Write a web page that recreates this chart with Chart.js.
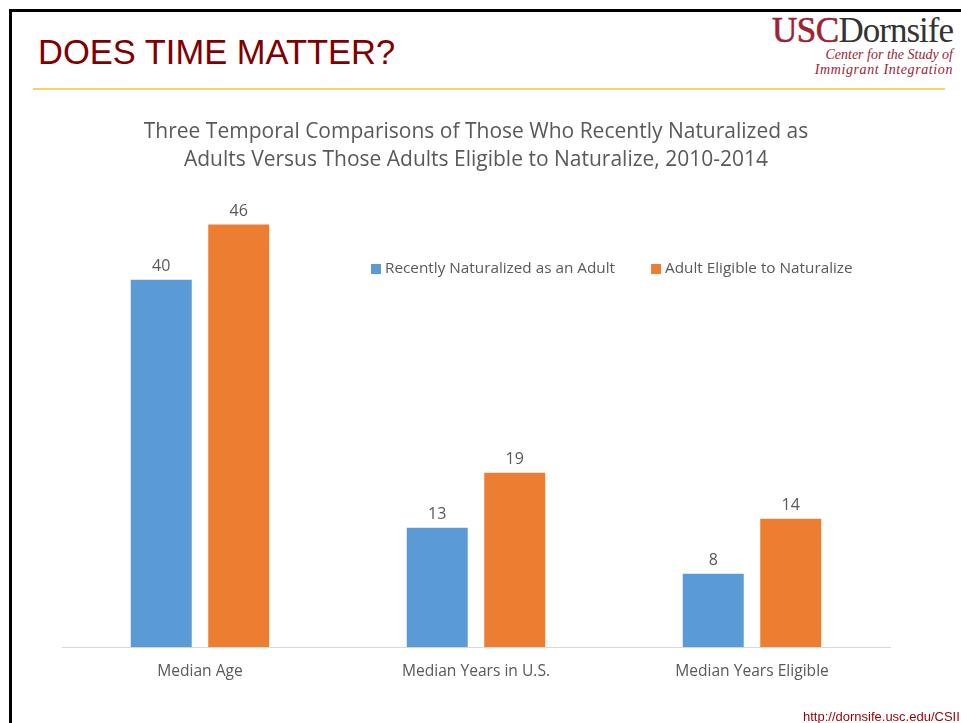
<!DOCTYPE html>
<html lang="en">
<head>
  <meta charset="UTF-8" />
  <title>Does Time Matter?</title>
  <style>
    body {
      margin: 0;
      width: 961px;
      height: 723px;
      overflow: hidden;
      background: #fff;
      position: relative;
    }
    .frame {
      position: absolute;
      left: 9px;
      top: 9px;
      width: 1000px;
      height: 800px;
      border-left: 3px solid #000;
      border-top: 3px solid #000;
    }
    .slide-title {
      position: absolute;
      left: 38px;
      top: 32px;
      font-family: "Liberation Sans", Arial, sans-serif;
      font-size: 34.5px;
      line-height: 40px;
      color: #800000;
      white-space: nowrap;
    }
    .rule {
      position: absolute;
      left: 33px;
      top: 88px;
      width: 912px;
      height: 2px;
      background: #fbd35e;
    }
    .logo-big {
      position: absolute;
      right: 8px;
      top: 12px;
      font-family: "Liberation Serif", "Times New Roman", serif;
      font-size: 35px;
      line-height: 38px;
      color: #333;
      letter-spacing: -1px;
      white-space: nowrap;
    }
    .logo-big span { color: #9d2235; letter-spacing: -0.5px; -webkit-text-stroke: 0.6px #9d2235; }
    .logo-sub {
      position: absolute;
      right: 8px;
      font-family: "Liberation Serif", "Times New Roman", serif;
      font-style: italic;
      font-size: 14px;
      line-height: 16px;
      color: #9d2235;
      white-space: nowrap;
    }
    .url {
      position: absolute;
      left: 803px;
      top: 709px;
      font-family: "Liberation Sans", Arial, sans-serif;
      font-size: 13px;
      line-height: 16px;
      color: #990000;
      white-space: nowrap;
    }
    #chart {
      position: absolute;
      left: 0;
      top: 0;
    }
  </style>
</head>
<body>
  <div class="frame"></div>
  <div class="slide-title">DOES TIME MATTER?</div>
  <div class="rule"></div>
  <div class="logo-big"><span>USC</span>Dornsife</div>
  <div class="logo-sub" style="top:47px">Center for the Study of</div>
  <div class="logo-sub" style="top:62px;letter-spacing:0.6px">Immigrant Integration</div>
  <canvas id="chart" width="961" height="723"></canvas>
  <div class="url">http://dornsife.usc.edu/CSII</div>

  <script src="https://cdn.jsdelivr.net/npm/chart.js"></script>
  <script>
    const categories = ['Median Age', 'Median Years in U.S.', 'Median Years Eligible'];
    const naturalized = [40, 13, 8];
    const eligible = [46, 19, 14];
    const seriesNames = ['Recently Naturalized as an Adult', 'Adult Eligible to Naturalize'];
    const chartTitle = [
      'Three Temporal Comparisons of Those Who Recently Naturalized as',
      'Adults Versus Those Adults Eligible to Naturalize, 2010-2014'
    ];

    const FONT = '"Open Sans", sans-serif';
    const TEXT = '#595959';

    // value labels above each bar
    const barLabels = {
      id: 'barLabels',
      afterDatasetsDraw(chart) {
        const ctx = chart.ctx;
        ctx.save();
        ctx.font = '16px ' + FONT;
        ctx.fillStyle = TEXT;
        ctx.textAlign = 'center';
        ctx.textBaseline = 'bottom';
        chart.data.datasets.forEach((ds, i) => {
          chart.getDatasetMeta(i).data.forEach((bar, j) => {
            ctx.fillText(ds.data[j], bar.x, bar.y - 5);
          });
        });
        ctx.restore();
      }
    };

    // legend drawn inside the plot, like the original
    const innerLegend = {
      id: 'innerLegend',
      afterDraw(chart) {
        const ctx = chart.ctx;
        ctx.save();
        ctx.font = '15.3px ' + FONT;
        ctx.textBaseline = 'middle';
        const y = 269;
        let x = 371;
        chart.data.datasets.forEach(ds => {
          ctx.fillStyle = ds.backgroundColor;
          ctx.fillRect(x, y - 5, 10, 10);
          ctx.fillStyle = TEXT;
          ctx.fillText(ds.label, x + 14, y);
          x += 14 + ctx.measureText(ds.label).width + 36;
        });
        ctx.restore();
      }
    };

    new Chart(document.getElementById('chart'), {
      type: 'bar',
      data: {
        labels: categories,
        datasets: [
          { label: seriesNames[0], data: naturalized, backgroundColor: '#5b9bd5' },
          { label: seriesNames[1], data: eligible, backgroundColor: '#ed7d31' }
        ]
      },
      options: {
        responsive: false,
        animation: false,
        categoryPercentage: 0.5616,
        barPercentage: 0.787,
        layout: { padding: { left: 62, right: 71, top: 118, bottom: 35 } },
        scales: {
          x: {
            grid: { display: false },
            border: { color: '#d9d9d9', width: 1 },
            ticks: { color: TEXT, font: { family: FONT, size: 15.6 }, padding: 7 }
          },
          y: {
            display: false,
            min: 0,
            max: 50
          }
        },
        plugins: {
          legend: { display: false },
          tooltip: { enabled: false },
          title: {
            display: true,
            text: chartTitle,
            color: TEXT,
            font: { family: FONT, size: 21, weight: 'normal', lineHeight: 1.33 },
            padding: { top: 0, bottom: 14 }
          }
        }
      },
      plugins: [barLabels, innerLegend]
    });
  </script>
</body>
</html>
